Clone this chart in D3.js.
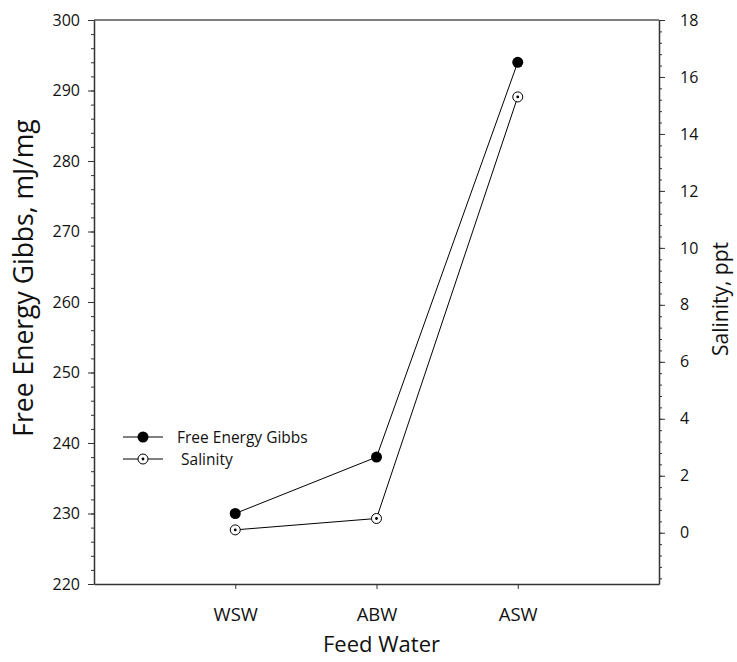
<!DOCTYPE html>
<html>
<head>
<meta charset="utf-8">
<script src="https://cdn.jsdelivr.net/npm/d3@7"></script>
<style>
  body { margin: 0; background: #fff; }
  svg text { font-family: "Open Sans", sans-serif; fill: #111; }
</style>
</head>
<body>
<div id="chart"></div>
<script>
// Data
const feedWater = ["WSW", "ABW", "ASW"];
const gibbs = [230, 238, 294];
const salinity = [0.1, 0.5, 15.3];
const leftTicks = [220, 230, 240, 250, 260, 270, 280, 290, 300];
const rightTicks = [0, 2, 4, 6, 8, 10, 12, 14, 16, 18];
const legendItems = ["Free Energy Gibbs", " Salinity"];

const W = 737, H = 662;
const margin = {top: 20, right: 78, bottom: 78, left: 94};
const width = W - margin.left - margin.right;
const height = H - margin.top - margin.bottom;

const svg = d3.select("#chart").append("svg")
    .attr("width", W).attr("height", H)
    .append("g")
    .attr("transform", `translate(${margin.left},${margin.top})`);

// Scales
const x = d3.scaleLinear().domain([0, 4]).range([0, width]);
const yL = d3.scaleLinear().domain([220, 300]).range([height, 0]);
const yR = d3.scaleLinear().domain([-1.8, 18]).range([height, 0]);

const axisColor = "#333";

// Frame top line
svg.append("line")
    .attr("x1", 0).attr("x2", width).attr("y1", 0).attr("y2", 0)
    .style("stroke", "#555").style("stroke-width", 1.5);

// Left axis: minor then major
svg.append("g")
    .call(d3.axisLeft(yL).tickValues(d3.range(220, 301, 2)).tickSize(3).tickFormat(""))
    .call(g => g.select(".domain").remove())
    .selectAll("line").style("stroke", axisColor);
const gl = svg.append("g")
    .call(d3.axisLeft(yL).tickValues(leftTicks).tickSize(6).tickPadding(8).tickSizeOuter(0));
gl.selectAll("text").style("font-size", "16px");

// Right axis
svg.append("g")
    .attr("transform", `translate(${width},0)`)
    .call(d3.axisRight(yR).tickValues(d3.range(-16, 181, 4).map(d => d / 10)).tickSize(3).tickFormat(""))
    .call(g => g.select(".domain").remove())
    .selectAll("line").style("stroke", axisColor);
const gr = svg.append("g")
    .attr("transform", `translate(${width},0)`)
    .call(d3.axisRight(yR).tickValues(rightTicks).tickSize(6).tickPadding(15).tickSizeOuter(0));
gr.selectAll("text").style("font-size", "16px");

// Bottom axis
const gx = svg.append("g")
    .attr("transform", `translate(0,${height})`)
    .call(d3.axisBottom(x).tickValues([1, 2, 3]).tickFormat(d => feedWater[d - 1])
        .tickSize(5).tickPadding(19).tickSizeOuter(0));
gx.selectAll("text").style("font-size", "18.5px");

[gl, gr, gx].forEach(g => {
    g.select(".domain").style("stroke", axisColor).style("stroke-width", 1.5);
    g.selectAll(".tick line").style("stroke", axisColor);
});

// Lines
const lineL = d3.line().x((d, i) => x(i + 1)).y(d => yL(d));
const lineR = d3.line().x((d, i) => x(i + 1)).y(d => yR(d));

svg.append("path").datum(gibbs)
    .attr("d", lineL).attr("fill", "none").style("stroke", "#000").style("stroke-width", 1);
svg.append("path").datum(salinity)
    .attr("d", lineR).attr("fill", "none").style("stroke", "#000").style("stroke-width", 1);

// Markers
svg.selectAll(".gibbs-pt").data(gibbs).enter().append("circle")
    .attr("class", "gibbs-pt")
    .attr("cx", (d, i) => x(i + 1)).attr("cy", d => yL(d))
    .attr("r", 5.5).attr("fill", "#000");

function openMarker(sel) {
    sel.append("circle").attr("r", 5).attr("fill", "#fff")
        .style("stroke", "#000").style("stroke-width", 1);
    sel.append("circle").attr("r", 1.4).attr("fill", "#000");
}

svg.selectAll(".sal-pt").data(salinity).enter().append("g")
    .attr("class", "sal-pt")
    .attr("transform", (d, i) => `translate(${x(i + 1)},${yR(d)})`)
    .call(openMarker);

// Legend
const legend = svg.append("g").attr("transform", `translate(${123 - margin.left},${437 - margin.top})`);
legendItems.forEach((name, i) => {
    const row = legend.append("g").attr("transform", `translate(0,${i * 22})`);
    row.append("line").attr("x1", 0).attr("x2", 40).attr("y1", 0).attr("y2", 0)
        .style("stroke", "#000").style("stroke-width", 1);
    if (i === 0) {
        row.append("circle").attr("cx", 20).attr("r", 5.5).attr("fill", "#000");
    } else {
        row.append("g").attr("transform", "translate(20,0)").call(openMarker);
    }
    row.append("text").attr("x", 54).attr("y", 6)
        .style("font-size", "15.5px").style("white-space", "pre")
        .attr("xml:space", "preserve")
        .text(name);
});

// Axis titles
svg.append("text")
    .attr("transform", "rotate(-90)")
    .attr("x", -258).attr("y", -61)
    .attr("text-anchor", "middle")
    .style("font-size", "26.5px")
    .text("Free Energy Gibbs, mJ/mg");

svg.append("text")
    .attr("transform", "rotate(-90)")
    .attr("x", -279).attr("y", 634)
    .attr("text-anchor", "middle")
    .style("font-size", "21px")
    .text("Salinity, ppt");

svg.append("text")
    .attr("x", x(2) + 5).attr("y", height + 68)
    .attr("text-anchor", "middle")
    .style("font-size", "22px")
    .text("Feed Water");
</script>
</body>
</html>
